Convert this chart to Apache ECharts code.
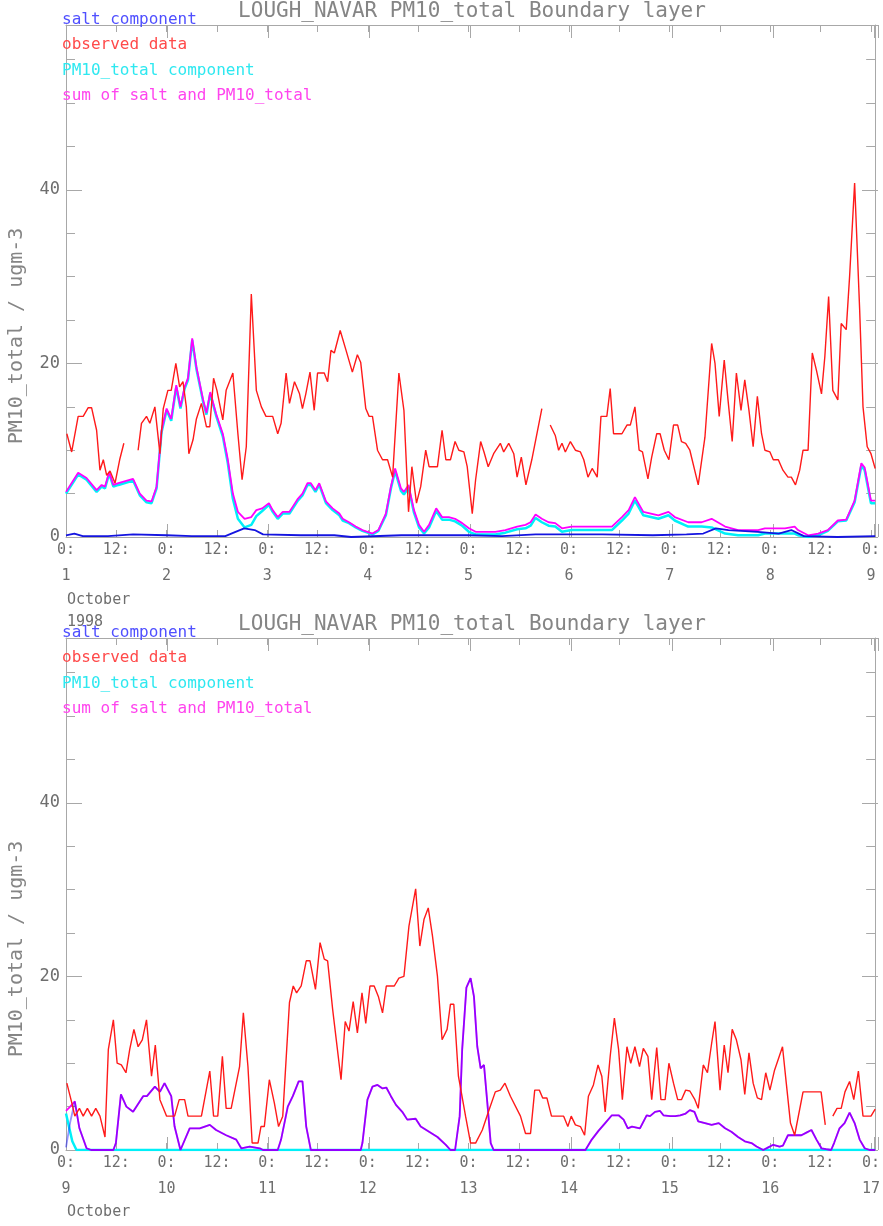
<!DOCTYPE html>
<html>
<head>
<meta charset="utf-8">
<script src="https://cdn.jsdelivr.net/npm/echarts@6/dist/echarts.min.js"></script>
<style>
  html, body { margin: 0; padding: 0; background: #fff; }
  #chart { width: 883px; height: 1226px; }
</style>
</head>
<body>
<div id="chart"></div>
<script>
// hours since 0: of the first day of each panel, value in ugm-3
const obsTop = [[0.2,11.9],[1.35,9.8],[2.9,13.9],[4.1,13.9],[5.3,14.9],[6.1,14.9],[7.3,12.3],[8.1,7.7],[8.9,8.9],[9.7,7.1],[10.5,7.6],[11.7,6.2],[12.8,8.9],[13.8,10.8],[15.5,'-'],[17.2,10.0],[18.0,13.1],[19.2,13.9],[20.0,13.1],[21.2,15.0],[22.4,9.6],[23.2,14.8],[24.3,16.9],[25.1,16.9],[26.2,20.0],[27.1,17.3],[27.9,17.9],[28.7,15.0],[29.3,9.6],[30.3,11.2],[31.1,13.6],[32.3,15.4],[33.5,12.7],[34.3,12.7],[35.2,18.3],[36.0,16.9],[37.4,13.5],[38.2,16.9],[39.8,18.9],[41.0,11.9],[42.0,6.6],[43.0,10.4],[44.2,28.0],[45.4,16.9],[46.6,15.0],[47.7,13.9],[49.3,13.9],[50.5,11.9],[51.3,13.1],[52.5,18.9],[53.3,15.4],[54.5,17.9],[55.7,16.5],[56.4,14.8],[57.2,16.5],[58.2,19.0],[59.2,14.6],[60.0,18.9],[61.6,18.9],[62.4,17.9],[63.2,21.5],[64.0,21.2],[65.4,23.8],[66.8,21.5],[68.3,19.0],[69.5,21.0],[70.3,20.1],[71.5,14.8],[72.3,13.9],[73.1,13.9],[74.3,10.0],[75.5,8.9],[76.7,8.9],[77.9,6.9],[79.4,18.9],[80.6,14.6],[81.7,2.9],[82.5,8.1],[83.6,3.9],[84.6,5.8],[85.8,10.0],[86.6,8.1],[88.6,8.1],[89.7,12.3],[90.6,8.9],[91.7,8.9],[92.8,11.0],[93.7,10.0],[94.9,9.8],[95.7,8.1],[96.9,2.7],[97.7,6.6],[98.9,11.0],[99.7,9.8],[100.7,8.1],[102.0,9.6],[103.6,10.8],[104.4,9.8],[105.6,10.8],[106.8,9.6],[107.6,6.9],[108.6,9.2],[109.7,6.0],[111.1,8.9],[113.5,14.8],[114.5,'-'],[115.5,12.9],[116.7,11.7],[117.5,10.0],[118.3,10.8],[119.1,9.8],[120.3,11.0],[121.5,10.0],[122.7,9.8],[123.5,8.9],[124.5,6.9],[125.5,7.9],[126.7,6.9],[127.6,13.9],[129.0,13.9],[129.8,17.1],[130.6,11.9],[132.6,11.9],[133.8,12.9],[134.6,12.9],[135.7,15.0],[136.7,10.0],[137.5,9.8],[138.8,6.7],[139.7,9.2],[140.9,11.9],[141.7,11.9],[142.7,10.0],[143.8,8.9],[144.9,12.9],[145.9,12.9],[146.8,11.0],[147.8,10.8],[148.8,10.0],[150.8,6.0],[152.4,11.5],[154.0,22.3],[154.8,20.0],[155.8,13.9],[157.0,20.4],[157.9,15.8],[158.9,11.0],[159.9,18.9],[161.0,14.6],[161.9,18.1],[162.9,14.6],[163.9,10.4],[164.9,16.2],[165.9,11.9],[166.7,10.0],[167.9,9.8],[168.7,8.9],[169.9,8.9],[171.0,7.7],[172.2,6.9],[173.0,6.9],[174.0,6.0],[175.0,7.7],[175.8,10.0],[177.0,10.0],[178.0,21.2],[179.0,19.2],[180.2,16.5],[181.0,20.8],[181.9,27.7],[182.9,16.9],[184.1,15.8],[184.9,24.6],[186.1,23.9],[186.9,30.0],[188.1,40.8],[189.3,26.2],[190.1,15.0],[191.1,10.4],[192.0,9.6],[193.0,7.9]]

const sumTop = [[0,5.2],[2.9,7.4],[4.9,6.8],[7.3,5.4],[8.5,6.0],[9.3,5.8],[10.3,7.5],[11.3,6.0],[12.5,6.2],[16.0,6.7],[17.6,5.0],[19.2,4.2],[20.4,4.1],[21.6,5.8],[22.8,12.3],[24.0,14.8],[25.1,13.6],[26.3,17.5],[27.3,15.0],[28.3,17.3],[29.1,18.3],[30.1,22.9],[31.1,19.6],[32.7,15.8],[33.5,14.3],[34.4,16.7],[35.8,14.2],[37.4,11.9],[38.6,8.9],[39.8,5.0],[41.0,2.9],[42.6,2.1],[44.2,2.3],[45.4,3.1],[46.8,3.3],[48.4,3.9],[49.3,3.1],[50.5,2.3],[51.7,2.9],[53.3,2.9],[54.1,3.5],[55.3,4.4],[56.4,5.0],[57.6,6.2],[58.4,6.2],[59.5,5.4],[60.4,6.2],[62.0,4.1],[63.6,3.3],[65.2,2.7],[66.0,2.1],[67.5,1.7],[69.1,1.2],[70.7,0.8],[73.1,0.4],[74.5,0.8],[76.3,2.7],[77.5,5.8],[78.5,7.9],[79.9,5.6],[80.6,5.2],[81.7,6.0],[83.0,3.1],[84.2,1.4],[85.4,0.6],[86.6,1.4],[88.3,3.3],[89.7,2.3],[91.3,2.3],[92.8,2.1],[94.5,1.6],[96.1,1.0],[97.7,0.6],[102.4,0.6],[104.8,0.8],[107.6,1.2],[109.6,1.4],[110.8,1.7],[112.0,2.6],[113.5,2.1],[115.1,1.7],[116.7,1.6],[118.3,1.0],[120.6,1.2],[130.2,1.2],[132.6,2.3],[134.2,3.1],[135.7,4.6],[137.7,2.9],[141.3,2.5],[143.7,2.9],[145.2,2.3],[148.4,1.7],[151.6,1.7],[154.0,2.1],[157.2,1.2],[160.3,0.8],[165.1,0.8],[166.7,1.0],[171.5,1.0],[173.8,1.2],[174.6,0.8],[177.0,0.2],[179.4,0.4],[181.7,0.8],[184.1,1.9],[186.1,2.0],[188.1,4.2],[189.7,8.5],[190.5,8.0],[192.0,4.2],[193,4.2]]

const pmTop = [[0,5.0],[2.9,7.2],[4.9,6.6],[7.3,5.2],[8.5,5.8],[9.3,5.6],[10.3,7.3],[11.3,5.8],[12.5,6.0],[16.0,6.5],[17.6,4.8],[19.2,4.0],[20.4,3.9],[21.6,5.6],[22.8,12.1],[24.0,14.6],[25.1,13.4],[26.3,17.3],[27.3,14.8],[28.3,17.1],[29.1,18.1],[30.1,22.7],[31.1,19.4],[32.7,15.6],[33.5,14.1],[34.4,16.5],[35.8,14.0],[37.4,11.6],[38.6,8.5],[39.8,4.4],[41.0,2.1],[42.6,1.1],[44.2,1.4],[45.4,2.4],[46.8,3.0],[48.4,3.7],[49.3,2.9],[50.5,2.1],[51.7,2.7],[53.3,2.7],[54.1,3.3],[55.3,4.2],[56.4,4.8],[57.6,6.0],[58.4,6.0],[59.5,5.2],[60.4,6.0],[62.0,3.9],[63.6,3.1],[65.2,2.5],[66.0,1.9],[67.5,1.6],[69.1,1.1],[70.7,0.7],[73.1,0.3],[74.5,0.7],[76.3,2.5],[77.5,5.6],[78.5,7.6],[79.9,5.3],[80.6,4.9],[81.7,5.7],[83.0,2.8],[84.2,1.1],[85.4,0.4],[86.6,1.1],[88.3,3.0],[89.7,2.0],[91.3,2.0],[92.8,1.8],[94.5,1.3],[96.1,0.6],[97.7,0.3],[102.4,0.3],[104.8,0.5],[107.6,0.9],[109.6,1.0],[110.8,1.3],[112.0,2.2],[113.5,1.7],[115.1,1.3],[116.7,1.2],[118.3,0.6],[120.6,0.8],[130.2,0.8],[132.6,1.9],[134.2,2.7],[135.7,4.2],[137.7,2.5],[141.3,2.1],[143.7,2.5],[145.2,1.9],[148.4,1.2],[151.6,1.2],[154.0,1.1],[157.2,0.4],[160.3,0.2],[165.1,0.2],[166.7,0.4],[171.5,0.4],[173.8,0.4],[174.6,0.2],[177.0,0],[179.4,0.2],[181.7,0.7],[184.1,1.8],[186.1,1.9],[188.1,4.0],[189.7,8.2],[190.5,7.7],[192.0,3.9],[193,3.9]]

const saltTop = [[0,0.2],[2,0.4],[4,0.1],[10,0.1],[16,0.3],[24,0.2],[30,0.1],[38,0.1],[40,0.5],[42.5,1.0],[45,0.8],[47,0.3],[56,0.2],[64,0.2],[68,0],[80,0.2],[96,0.2],[104,0.1],[112,0.3],[128,0.3],[140,0.2],[148,0.3],[152,0.4],[155,1.0],[158,0.8],[165,0.6],[170,0.4],[173,0.8],[176,0.1],[184,0],[193,0.1]]

const obsBot = [[0.2,7.7],[1.4,5.4],[2.1,3.9],[3.2,4.8],[4.1,3.9],[5.1,4.8],[6.1,3.9],[7.1,4.8],[8.1,3.9],[9.3,1.5],[10.1,11.6],[11.3,15.0],[12.2,10.0],[13.2,9.8],[14.3,8.9],[15.2,11.6],[16.2,13.9],[17.2,11.9],[18.2,12.7],[19.2,15.0],[20.4,8.5],[21.3,12.1],[22.4,5.8],[24.0,3.9],[25.9,3.9],[27.0,5.8],[28.3,5.8],[29.1,3.9],[32.3,3.9],[34.3,9.1],[35.2,3.9],[36.2,3.9],[37.3,10.8],[38.2,4.8],[39.4,4.8],[41.4,9.6],[42.3,15.8],[43.4,9.6],[44.4,0.8],[45.8,0.8],[46.5,2.7],[47.3,2.7],[48.5,8.1],[49.7,5.4],[50.7,2.7],[51.7,3.9],[53.3,17.0],[54.2,18.9],[55.0,18.1],[56.1,18.9],[57.3,21.8],[58.2,21.8],[59.5,18.5],[60.6,23.9],[61.6,22.0],[62.4,21.8],[63.6,16.2],[65.6,8.1],[66.6,14.8],[67.5,13.7],[68.5,17.1],[69.5,13.5],[70.6,18.1],[71.5,14.6],[72.5,18.9],[73.5,18.9],[74.5,17.7],[75.5,15.8],[76.4,18.9],[78.3,18.9],[79.4,19.8],[80.6,20.0],[81.8,25.8],[83.4,30.1],[84.4,23.5],[85.4,26.6],[86.4,27.9],[87.4,24.7],[88.6,20.0],[89.7,12.7],[90.9,13.9],[91.7,16.8],[92.5,16.8],[93.6,8.5],[95.3,3.9],[96.5,0.8],[97.7,0.8],[99.3,2.3],[100.9,4.6],[102.4,6.7],[103.6,6.9],[104.7,7.7],[106.0,6.2],[108.4,3.9],[109.6,1.9],[110.8,1.9],[111.8,6.9],[112.9,6.9],[113.7,6.0],[114.7,6.0],[115.8,3.9],[118.7,3.9],[119.7,2.7],[120.5,3.9],[121.5,2.9],[122.7,2.7],[123.7,1.7],[124.6,6.2],[125.8,7.5],[126.9,9.8],[127.8,8.5],[128.6,4.4],[129.8,10.8],[130.8,15.2],[131.8,11.6],[132.7,5.8],[133.8,11.9],[134.7,10.0],[135.7,11.9],[136.8,9.6],[137.7,11.7],[138.8,10.8],[139.7,5.8],[140.9,11.8],[141.9,5.8],[142.9,5.8],[143.8,10.0],[144.9,7.7],[145.9,5.8],[146.8,5.8],[147.8,6.9],[148.8,6.8],[150.0,5.8],[150.8,4.8],[152.0,9.8],[153.0,8.9],[154.0,12.3],[154.8,14.8],[156.0,6.9],[157.0,12.1],[157.9,8.9],[158.9,13.9],[159.9,12.7],[161.0,10.4],[161.9,6.4],[162.9,11.2],[163.9,7.7],[164.9,6.0],[165.9,5.8],[166.9,8.9],[167.9,6.9],[169.0,9.2],[170.9,11.9],[171.8,7.7],[172.8,3.1],[173.8,1.7],[175.8,6.7],[180.1,6.7],[181.1,2.9],[182,'-'],[182.9,3.9],[183.9,4.8],[184.9,4.8],[185.8,6.7],[186.9,7.9],[187.9,5.8],[189.0,9.1],[190.1,3.9],[192.0,3.9],[193.0,4.7]]

// salt and the sum lie on top of each other in the second panel
const saltBot = [[0,0.3],[1,3.2],[2.1,5.6],[3.2,2.5],[4.9,0.2],[6,0],[11.3,0],[11.9,0.8],[13.1,6.4],[14.4,5.0],[16.0,4.4],[18.4,6.2],[19.3,6.2],[21.2,7.3],[22.4,6.7],[23.5,7.7],[25.1,6.2],[25.9,2.7],[27.3,0],[29.5,2.5],[31.9,2.5],[33.1,2.7],[34.3,2.9],[35.8,2.3],[38.2,1.7],[40.6,1.2],[41.8,0.2],[43.8,0.4],[46.2,0.2],[47.0,0],[50.5,0],[51.3,1.2],[52.9,5.0],[54.1,6.2],[55.5,7.9],[56.4,7.9],[57.3,2.7],[58.4,0],[70.3,0],[70.7,0.8],[71.9,5.8],[73.1,7.3],[74.3,7.5],[75.5,7.1],[76.4,7.2],[77.5,6.2],[78.7,5.2],[80.2,4.4],[81.4,3.5],[83.4,3.6],[84.6,2.7],[86.6,2.1],[88.6,1.5],[90.6,0.6],[91.7,0],[92.8,0],[93.9,3.9],[94.5,11.6],[95.5,18.7],[96.5,19.8],[97.3,17.7],[98.1,11.9],[98.9,9.4],[99.7,9.8],[100.5,5.4],[101.3,0.8],[102.0,0],[123.9,0],[125.4,1.2],[127.0,2.2],[128.6,3.1],[130.2,4.0],[131.8,4.0],[133.0,3.5],[134.0,2.5],[135.0,2.7],[136.9,2.5],[138.5,4.0],[139.3,3.9],[140.5,4.4],[141.7,4.5],[142.5,4.0],[144.1,3.9],[145.3,3.9],[146.5,4.0],[147.8,4.2],[148.8,4.6],[149.9,4.4],[150.8,3.3],[152.4,3.1],[154.0,2.9],[155.7,3.1],[157.2,2.5],[158.7,2.1],[160.3,1.5],[161.9,1.0],[163.5,0.8],[164.7,0.4],[166.3,0],[167.5,0.3],[168.7,0.6],[170.2,0.4],[171.0,0.5],[172.2,1.7],[173.8,1.7],[175.4,1.7],[176.6,2.0],[177.8,2.3],[179.0,1.2],[180.2,0.2],[181.3,0.1],[182.5,0],[183.2,0.8],[184.5,2.5],[185.7,3.1],[186.9,4.3],[188.1,3.1],[189.3,1.2],[190.5,0.2],[191.7,0],[193,0]]
const sumBotStart = [[0,4.5],[1,5.0],[2.1,5.6]]
const pmBot = [[0,4.2],[1.5,1.0],[2.5,0],[193,0]]

const firstDays = [1, 9]
const legendNames = ['salt component', 'observed data', 'PM10_total component', 'sum of salt and PM10_total']
const chartTitle = 'LOUGH_NAVAR PM10_total Boundary layer'
const yName = 'PM10_total / ugm-3'

var FONT = '"DejaVu Sans Mono", monospace'
var GRAY = '#6e6e6e'
var AXIS = '#a8a8a8'

var myChart = echarts.init(document.getElementById('chart'))

var panels = [
  { top: 25, height: 512, obs: obsTop, pm: pmTop, salt: saltTop, sum: sumTop, saltOpacity: 1, saltColor: '#1414e0' },
  { top: 638, height: 512, obs: obsBot, pm: pmBot, salt: saltBot, sum: sumBotStart.concat(saltBot.slice(3)), saltOpacity: 0.42, saltColor: '#0000ff' }
]

var grid = [], xAxis = [], yAxis = [], series = [], graphic = []

panels.forEach(function(p, i) {
  var rect = { left: 66, width: 812, top: p.top, height: p.height }
  grid.push(Object.assign({}, rect), Object.assign({}, rect))
  var g0 = 2 * i, g1 = 2 * i + 1
  var day0 = firstDays[i]
  var minorTick = { inside: true, length: 7, lineStyle: { color: AXIS } }
  var majorTick = { inside: true, length: 13, lineStyle: { color: AXIS } }
  var frame = { show: true, onZero: false, lineStyle: { color: AXIS } }
  var noLine = { show: false, onZero: false }
  // hour axes with 0:/12: labels
  xAxis.push({
    gridIndex: g0, type: 'value', position: 'bottom', min: 0, max: 193, interval: 12,
    axisLine: frame, axisTick: minorTick, splitLine: { show: false },
    axisLabel: {
      margin: 0, color: GRAY, fontFamily: FONT, fontSize: 15, lineHeight: 26,
      formatter: function(v) {
        if (v % 12 !== 0) return ''
        if (v % 24 === 0) return '0:\n' + (day0 + v / 24)
        return '12:'
      }
    }
  })
  xAxis.push({
    gridIndex: g0, type: 'value', position: 'top', min: 0, max: 193, interval: 12,
    axisLine: frame, axisTick: minorTick, axisLabel: { show: false }, splitLine: { show: false }
  })
  xAxis.push({
    gridIndex: g1, type: 'value', position: 'bottom', min: 0, max: 193, interval: 24,
    axisLine: noLine, axisTick: majorTick, axisLabel: { show: false }, splitLine: { show: false }
  })
  xAxis.push({
    gridIndex: g1, type: 'value', position: 'top', min: 0, max: 193, interval: 24,
    axisLine: noLine, axisTick: majorTick, axisLabel: { show: false }, splitLine: { show: false }
  })
  var yMinor = { inside: true, length: 9, lineStyle: { color: AXIS } }
  var yMajor = { inside: true, length: 16, lineStyle: { color: AXIS } }
  yAxis.push({
    gridIndex: g0, type: 'value', position: 'left', min: 0, max: 59, interval: 5,
    axisLine: frame, axisTick: yMinor, splitLine: { show: false },
    axisLabel: {
      margin: 6, color: GRAY, fontFamily: FONT, fontSize: 17,
      formatter: function(v) { return (v % 20 === 0 && v < 59) ? String(v) : '' }
    }
  })
  yAxis.push({
    gridIndex: g0, type: 'value', position: 'right', min: 0, max: 59, interval: 5,
    axisLine: frame, axisTick: yMinor, axisLabel: { show: false }, splitLine: { show: false }
  })
  yAxis.push({
    gridIndex: g1, type: 'value', position: 'left', min: 0, max: 59, interval: 20,
    axisLine: noLine, axisTick: yMajor, axisLabel: { show: false }, splitLine: { show: false }
  })
  yAxis.push({
    gridIndex: g1, type: 'value', position: 'right', min: 0, max: 59, interval: 20,
    axisLine: noLine, axisTick: yMajor, axisLabel: { show: false }, splitLine: { show: false }
  })

  var xi = 4 * i, yi = 4 * i
  function line(name, data, color, width, opacity, z) {
    series.push({
      name: name, type: 'line', xAxisIndex: xi, yAxisIndex: yi, data: data,
      showSymbol: false, symbol: 'none', animation: false, z: z,
      lineStyle: { color: color, width: width, opacity: opacity }
    })
  }
  line(legendNames[2], p.pm, '#00f0f8', 2.5, 1, 2)
  line(legendNames[3], p.sum, '#ff00ff', 1.8, 1, 3)
  line(legendNames[0], p.salt, p.saltColor, 1.8, p.saltOpacity, 4)
  line(legendNames[1], p.obs, '#ff1a1a', 1.4, 1, 5)

  // title, key and axis text
  graphic.push({ type: 'text', x: 472, y: p.top - 13, style: { text: chartTitle, font: '21px ' + FONT, fill: '#858585', align: 'center', verticalAlign: 'middle' } })
  var keyColors = ['#5050ff', '#ff4a4a', '#2ee8f0', '#ff44ee']
  legendNames.forEach(function(n, k) {
    graphic.push({ type: 'text', x: 62, y: p.top - 5 + 25.3 * k, z: 10, style: { text: n, font: '16px ' + FONT, fill: keyColors[k], align: 'left', verticalAlign: 'middle' } })
  })
  graphic.push({ type: 'text', x: 17, y: p.top + 311, rotation: Math.PI / 2, style: { text: yName, font: '20px ' + FONT, fill: '#858585', align: 'center', verticalAlign: 'middle' } })
})

graphic.push({ type: 'text', x: 67, y: 600, style: { text: 'October', font: '15px ' + FONT, fill: GRAY, align: 'left', verticalAlign: 'middle' } })
graphic.push({ type: 'text', x: 67, y: 622, style: { text: '1998', font: '15px ' + FONT, fill: GRAY, align: 'left', verticalAlign: 'middle' } })
graphic.push({ type: 'text', x: 67, y: 1212, style: { text: 'October', font: '15px ' + FONT, fill: GRAY, align: 'left', verticalAlign: 'middle' } })

const option = {
  backgroundColor: '#fff',
  animation: false,
  grid: grid,
  xAxis: xAxis,
  yAxis: yAxis,
  series: series,
  graphic: graphic
}
myChart.setOption(option)
</script>
</body>
</html>
